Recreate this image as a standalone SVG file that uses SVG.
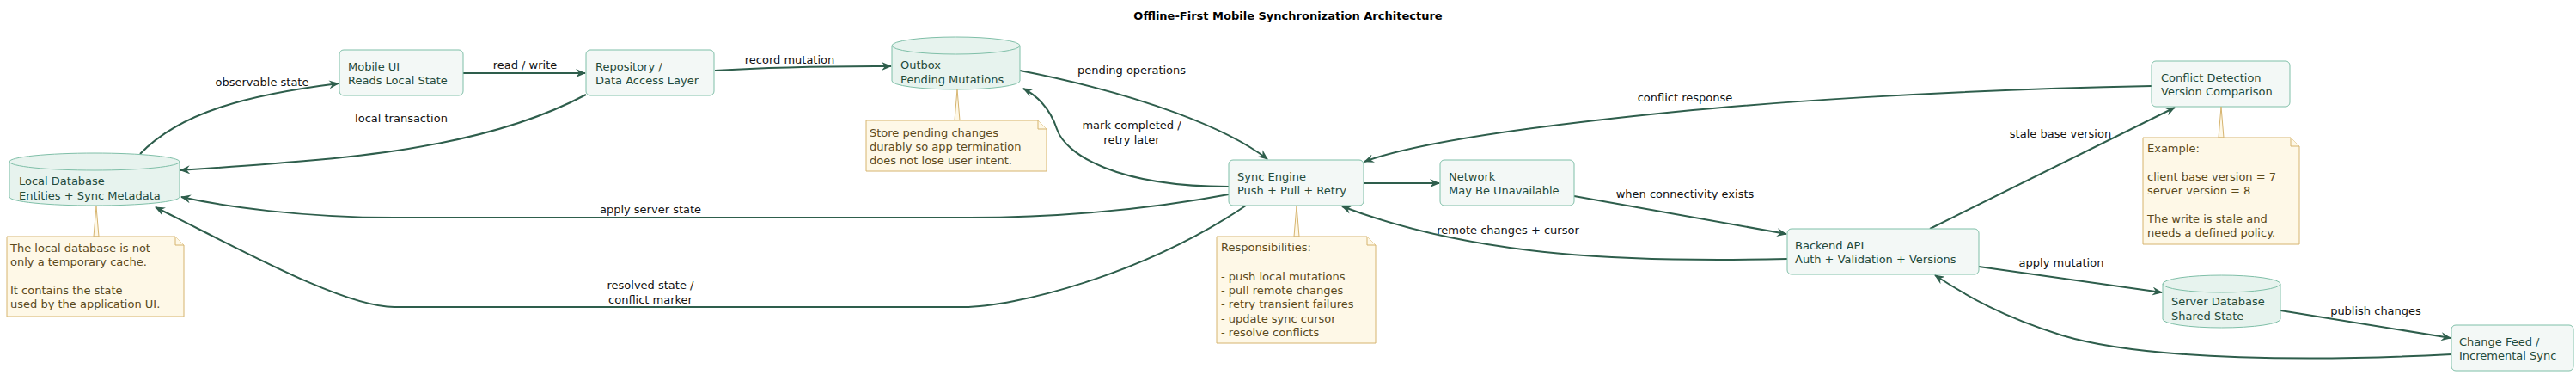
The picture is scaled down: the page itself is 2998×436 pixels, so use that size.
<svg xmlns="http://www.w3.org/2000/svg" width="2998" height="436" viewBox="0 0 2998 436">
<style>
text{font-family:"DejaVu Sans","Liberation Sans",sans-serif;font-size:13px}
.node{fill:#f3f8f6;stroke:#7fbfa8;stroke-width:1}
.db{fill:#e7f3ee;stroke:#7fbfa8;stroke-width:1}
.nt{fill:#1f4a3a}
.note{fill:#fef8e7;stroke:#d6b46e;stroke-width:1}
.ntx{fill:#5b4a1c}
.e{fill:none;stroke:#2e5e4c;stroke-width:2;marker-end:url(#ah)}
.lb{fill:#111;text-anchor:middle}
</style>
<defs>
<marker id="ah" viewBox="0 0 12 10" refX="11" refY="5" markerWidth="12" markerHeight="10" markerUnits="userSpaceOnUse" orient="auto">
<path d="M0,0 L12,5 L0,10 L4,5 z" fill="#2e5e4c"/>
</marker>
</defs>
<rect width="2998" height="436" fill="#fff"/>
<text x="1499" y="23" text-anchor="middle" style="font-weight:bold;font-size:13px" fill="#000">Offline-First Mobile Synchronization Architecture</text>

<g id="connectors">
<path class="e" d="M163,179 C210,130 290,110 394,97"/>
<text class="lb" x="305" y="100">observable state</text>
<path class="e" d="M539,85 L681,85"/>
<text class="lb" x="611" y="80">read / write</text>
<path class="e" d="M682,110 C560,175 400,185 210,198"/>
<text class="lb" x="467" y="142">local transaction</text>
<path class="e" d="M832,82 C900,78 960,77 1037,77"/>
<text class="lb" x="919" y="74">record mutation</text>
<path class="e" d="M1187,82 C1330,110 1430,150 1475,185"/>
<text class="lb" x="1317" y="86">pending operations</text>
<path class="e" d="M1430,217 C1300,217 1240,180 1230,150 C1222,125 1205,110 1191,103"/>
<text class="lb" x="1317" y="150">mark completed /</text>
<text class="lb" x="1317" y="167">retry later</text>
<path class="e" d="M1430,226 C1330,245 1220,253 1128,253 L459,253 C350,253 260,240 211,229"/>
<text class="lb" x="757" y="248">apply server state</text>
<path class="e" d="M1450,239 C1330,320 1180,357 1121,357 L459,357 C400,357 280,290 181,241"/>
<text class="lb" x="757" y="336">resolved state /</text>
<text class="lb" x="757" y="353">conflict marker</text>
<path class="e" d="M1587,213 L1675,213"/>
<path class="e" d="M1832,228 L2079,272"/>
<text class="lb" x="1961" y="230">when connectivity exists</text>
<path class="e" d="M2080,301 C1900,305 1720,300 1562,240"/>
<text class="lb" x="1755" y="272">remote changes + cursor</text>
<path class="e" d="M2504,100 C2250,105 2050,120 1950,130 C1800,145 1650,165 1588,188"/>
<text class="lb" x="1961" y="118">conflict response</text>
<path class="e" d="M2246,266 L2531,125"/>
<text class="lb" x="2398" y="160">stale base version</text>
<path class="e" d="M2303,310 L2516,340"/>
<text class="lb" x="2399" y="310">apply mutation</text>
<path class="e" d="M2654,361 L2852,393"/>
<text class="lb" x="2765" y="366">publish changes</text>
<path class="e" d="M2853,412 C2700,420 2500,420 2400,390 C2330,368 2290,345 2252,320"/>
</g>

<g id="mobile-ui">
<rect class="node" x="395" y="58" width="144" height="53" rx="5"/>
<text class="nt" x="405" y="82">Mobile UI</text>
<text class="nt" x="405" y="98">Reads Local State</text>
</g>
<g id="repository">
<rect class="node" x="682" y="58" width="149" height="53" rx="5"/>
<text class="nt" x="693" y="82">Repository /</text>
<text class="nt" x="693" y="98">Data Access Layer</text>
</g>
<g id="local-db">
<path class="db" d="M11,188 a99,10 0 0 1 198,0 v41 a99,10 0 0 1 -198,0 z"/>
<path class="db" d="M11,188 a99,10 0 0 0 198,0" fill="none"/>
<text class="nt" x="22" y="215">Local Database</text>
<text class="nt" x="22" y="232">Entities + Sync Metadata</text>
</g>
<g id="note-local">
<polygon class="note" points="112,240 109,275 115,275"/>
<path class="note" d="M8,275 h196 l10,10 v83 h-206 z"/>
<path class="note" d="M204,275 v10 h10"/>
<text class="ntx" x="12" y="293">The local database is not</text>
<text class="ntx" x="12" y="309">only a temporary cache.</text>
<text class="ntx" x="12" y="342">It contains the state</text>
<text class="ntx" x="12" y="358">used by the application UI.</text>
</g>
<g id="outbox">
<path class="db" d="M1038,53 a74.5,10 0 0 1 149,0 v41 a74.5,10 0 0 1 -149,0 z"/>
<path class="db" d="M1038,53 a74.5,10 0 0 0 149,0" fill="none"/>
<text class="nt" x="1048" y="80">Outbox</text>
<text class="nt" x="1048" y="97">Pending Mutations</text>
</g>
<g id="note-outbox">
<polygon class="note" points="1114,104 1111,140 1117,140"/>
<path class="note" d="M1008,140 h200 l10,10 v49 h-210 z"/>
<path class="note" d="M1208,140 v10 h10"/>
<text class="ntx" x="1012" y="159">Store pending changes</text>
<text class="ntx" x="1012" y="175">durably so app termination</text>
<text class="ntx" x="1012" y="191">does not lose user intent.</text>
</g>
<g id="sync-engine">
<rect class="node" x="1430" y="186" width="157" height="53" rx="5"/>
<text class="nt" x="1440" y="210">Sync Engine</text>
<text class="nt" x="1440" y="226">Push + Pull + Retry</text>
</g>
<g id="note-sync">
<polygon class="note" points="1509,239 1506,275 1512,275"/>
<path class="note" d="M1416,275 h175 l10,10 v114 h-185 z"/>
<path class="note" d="M1591,275 v10 h10"/>
<text class="ntx" x="1421" y="292">Responsibilities:</text>
<text class="ntx" x="1421" y="326">- push local mutations</text>
<text class="ntx" x="1421" y="342">- pull remote changes</text>
<text class="ntx" x="1421" y="358">- retry transient failures</text>
<text class="ntx" x="1421" y="375">- update sync cursor</text>
<text class="ntx" x="1421" y="391">- resolve conflicts</text>
</g>
<g id="network">
<rect class="node" x="1676" y="186" width="156" height="53" rx="5"/>
<text class="nt" x="1686" y="210">Network</text>
<text class="nt" x="1686" y="226">May Be Unavailable</text>
</g>
<g id="backend-api">
<rect class="node" x="2080" y="266" width="223" height="53" rx="5"/>
<text class="nt" x="2089" y="290">Backend API</text>
<text class="nt" x="2089" y="306">Auth + Validation + Versions</text>
</g>
<g id="conflict-detection">
<rect class="node" x="2504" y="71" width="161" height="53" rx="5"/>
<text class="nt" x="2515" y="95">Conflict Detection</text>
<text class="nt" x="2515" y="111">Version Comparison</text>
</g>
<g id="note-conflict">
<polygon class="note" points="2585,124 2582,160 2588,160"/>
<path class="note" d="M2494,160 h172 l10,10 v114 h-182 z"/>
<path class="note" d="M2666,160 v10 h10"/>
<text class="ntx" x="2499" y="177">Example:</text>
<text class="ntx" x="2499" y="210">client base version = 7</text>
<text class="ntx" x="2499" y="226">server version = 8</text>
<text class="ntx" x="2499" y="259">The write is stale and</text>
<text class="ntx" x="2499" y="275">needs a defined policy.</text>
</g>
<g id="server-db">
<path class="db" d="M2517,330 a68.5,10 0 0 1 137,0 v41 a68.5,10 0 0 1 -137,0 z"/>
<path class="db" d="M2517,330 a68.5,10 0 0 0 137,0" fill="none"/>
<text class="nt" x="2527" y="355">Server Database</text>
<text class="nt" x="2527" y="372">Shared State</text>
</g>
<g id="change-feed">
<rect class="node" x="2853" y="378" width="142" height="53" rx="5"/>
<text class="nt" x="2862" y="402">Change Feed /</text>
<text class="nt" x="2862" y="418">Incremental Sync</text>
</g>
</svg>
